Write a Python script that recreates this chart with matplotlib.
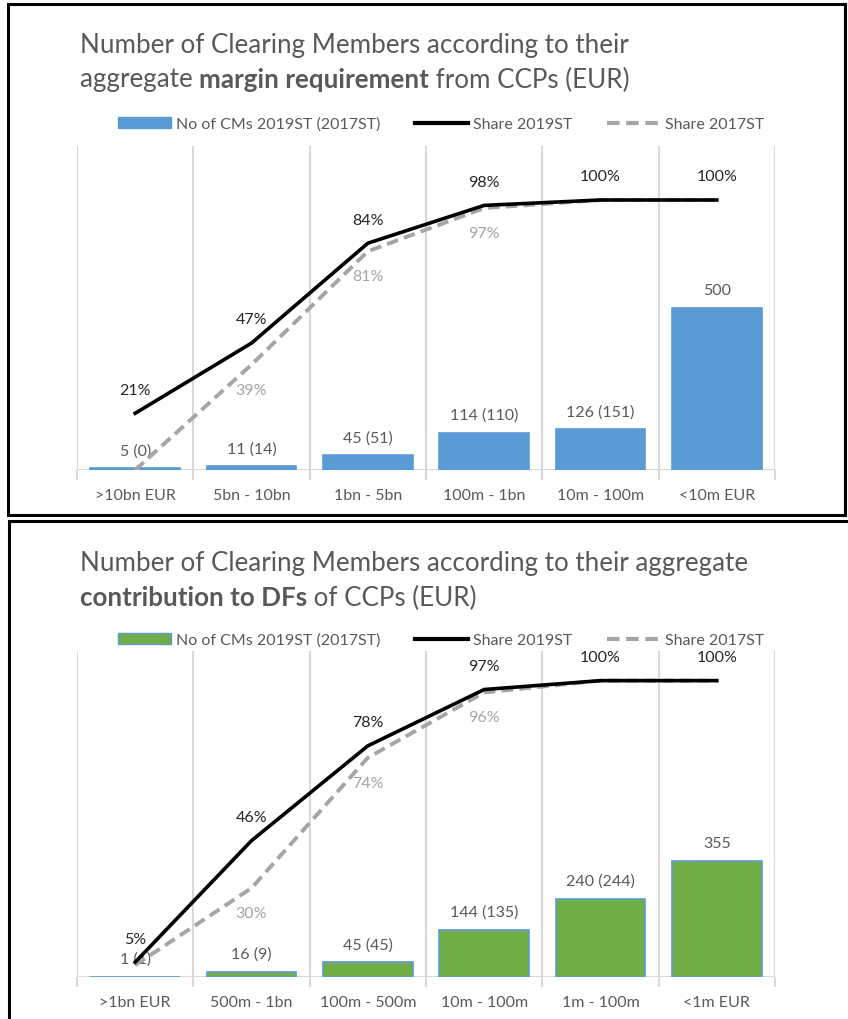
import matplotlib.pyplot as plt
from matplotlib.patches import Rectangle, Patch
from matplotlib.lines import Line2D
import numpy as np

plt.rcParams['font.family'] = ['Lato', 'DejaVu Sans']

# Panel 1 : margin requirement
cats_mr = ['>10bn EUR', '5bn - 10bn', '1bn - 5bn', '100m - 1bn', '10m - 100m', '<10m EUR']
cms19_mr = [5, 11, 45, 114, 126, 500]
cms17_mr = [0, 14, 51, 110, 151, None]
share19_mr = [0.21, 0.47, 0.84, 0.98, 1.00, 1.00]
share17_mr = [0.00, 0.39, 0.81, 0.97, 1.00, 1.00]
show17_mr = [False, True, True, True, False, False]

# Panel 2 : contribution to default funds
cats_df = ['>1bn EUR', '500m - 1bn', '100m - 500m', '10m - 100m', '1m - 100m', '<1m EUR']
cms19_df = [1, 16, 45, 144, 240, 355]
cms17_df = [1, 9, 45, 135, 244, None]
share19_df = [0.05, 0.46, 0.78, 0.97, 1.00, 1.00]
share17_df = [0.04, 0.30, 0.74, 0.96, 1.00, 1.00]
show17_df = [False, True, True, True, False, False]

TXT = '#595959'
GRID = '#D9D9D9'
GREY = '#A5A5A5'
BLUE = '#5B9BD5'
GREEN = '#70AD47'

fig = plt.figure(figsize=(8.48, 10.2), dpi=100)
W, H = 848, 1020


def px(x, y):
    return x / W, 1 - y / H


def rich_line(x, y, pieces, size):
    # draw a line of text made of normal / bold pieces
    fig.canvas.draw()
    r = fig.canvas.get_renderer()
    fx, fy = px(x, y)
    for txt, wt in pieces:
        t = fig.text(fx, fy, txt, fontsize=size, fontweight=wt, color=TXT, va='center', ha='left')
        bb = t.get_window_extent(renderer=r)
        fx += bb.width / W


def panel(top, bottom, cats, c19, c17, s19, s17, show17, ymax2, face, edge, title, legy):
    l, b = px(77, bottom)
    _, t = px(77, top)
    ax = fig.add_axes([l, b, 698 / W, t - b])
    x = np.arange(len(cats))
    ax.bar(x, c19, width=0.77, color=face, edgecolor=edge, linewidth=1.2, zorder=2)
    ax.set_xlim(-0.5, len(cats) - 0.5)
    ax.set_ylim(0, 1000)
    for s in ax.spines.values():
        s.set_visible(False)
    ax.axhline(0, color=GRID, lw=1.5, zorder=1)
    ax.set_xticks(x)
    ax.set_xticklabels(cats, fontsize=11.5, color=TXT)
    ax.set_xticks(np.arange(-0.5, len(cats)), minor=True)
    ax.tick_params(axis='x', which='major', length=0, pad=13)
    ax.tick_params(axis='x', which='minor', length=7, color=GRID, width=1.5)
    ax.grid(True, axis='x', which='minor', color=GRID, lw=1.5, zorder=0)
    ax.set_yticks([])
    for i in range(len(cats)):
        lab = str(c19[i]) if c17[i] is None else '%d (%d)' % (c19[i], c17[i])
        ax.annotate(lab, (x[i], c19[i]), xytext=(0, 13), textcoords='offset points',
                    ha='center', va='center', fontsize=11.5, color=TXT)

    ax2 = ax.twinx()
    ax2.set_ylim(0, ymax2)
    ax2.set_yticks([])
    for s in ax2.spines.values():
        s.set_visible(False)
    ax2.plot(x, s17, color=GREY, lw=2.8, dashes=(3, 1.6), solid_capstyle='round', zorder=3)
    ax2.plot(x, s19, color='black', lw=2.6, zorder=4)
    for i in range(len(cats)):
        ax2.annotate('%d%%' % round(s19[i] * 100), (x[i], s19[i]), xytext=(0, 17),
                     textcoords='offset points', ha='center', va='center', fontsize=11.5, color='#262626')
        if show17[i]:
            ax2.annotate('%d%%' % round(s17[i] * 100), (x[i], s17[i]), xytext=(0, -18),
                         textcoords='offset points', ha='center', va='center', fontsize=11.5, color=GREY)

    handles = [Patch(facecolor=face, edgecolor=edge),
               Line2D([], [], color='black', lw=3),
               Line2D([], [], color=GREY, lw=3, dashes=(3, 1.6))]
    labels = ['No of CMs 2019ST (2017ST)', 'Share 2019ST', 'Share 2017ST']
    lx, ly = px(441, legy)
    fig.legend(handles, labels, loc='center', bbox_to_anchor=(lx, ly), ncol=3, frameon=False,
               fontsize=11.5, handlelength=3.3, handleheight=0.7, handletextpad=0.3,
               columnspacing=2.2, labelcolor=TXT)

    for k, line in enumerate(title):
        rich_line(80, line[0], line[1], 18.7)


panel(147, 471, cats_mr, cms19_mr, cms17_mr, share19_mr, share17_mr, show17_mr, 1.2, BLUE, BLUE,
      [(45, [('Number of Clearing Members according to their', 'normal')]),
       (80, [('aggregate ', 'normal'), ('margin requirement', 'bold'), (' from CCPs (EUR)', 'normal')])],
      125)
panel(652, 978, cats_df, cms19_df, cms17_df, share19_df, share17_df, show17_df, 1.1, GREEN, BLUE,
      [(563, [('Number of Clearing Members according to their aggregate', 'normal')]),
       (598, [('contribution to DFs', 'bold'), (' of CCPs (EUR)', 'normal')])],
      641)

# panel frames
fig.add_artist(Rectangle(px(8, 516), 837 / W, 511 / H, transform=fig.transFigure,
                         fill=False, ec='black', lw=2.2))
fig.add_artist(Rectangle(px(9, 1040), 860 / W, 518 / H, transform=fig.transFigure,
                         fill=False, ec='black', lw=2.2, clip_on=False))

fig.savefig('out.png', dpi=100)
